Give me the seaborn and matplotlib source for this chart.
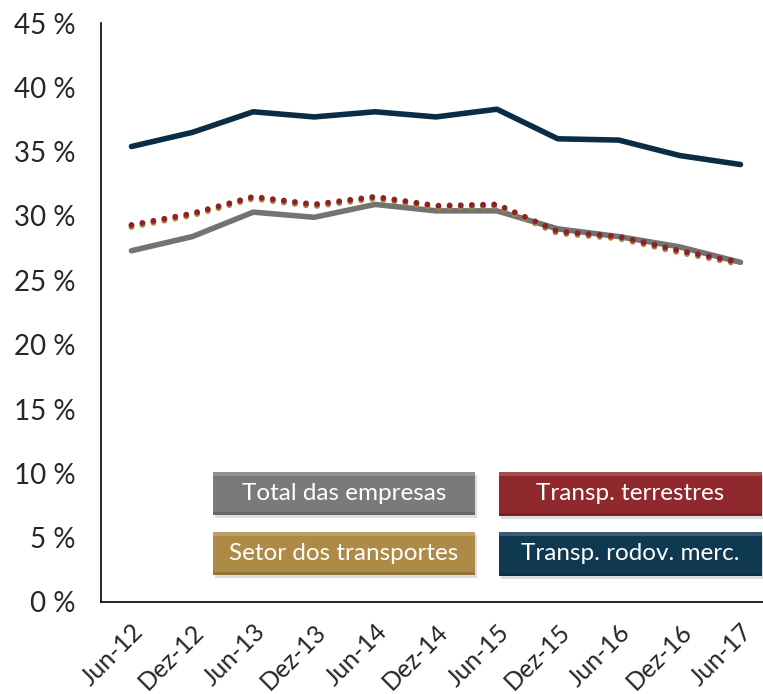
import matplotlib
matplotlib.use("Agg")
import matplotlib.pyplot as plt
import pandas as pd
import seaborn as sns
from matplotlib.patches import Rectangle
from matplotlib.ticker import FuncFormatter

periods = ["Jun-12", "Dez-12", "Jun-13", "Dez-13", "Jun-14", "Dez-14",
           "Jun-15", "Dez-15", "Jun-16", "Dez-16", "Jun-17"]

total_empresas = [27.3, 28.4, 30.3, 29.9, 30.9, 30.4, 30.4, 29.0, 28.4, 27.6, 26.4]
setor_transportes = [29.2, 30.1, 31.4, 30.8, 31.4, 30.7, 30.8, 28.7, 28.3, 27.2, 26.3]
transp_terrestres = [29.3, 30.2, 31.5, 30.9, 31.5, 30.8, 30.9, 28.8, 28.4, 27.3, 26.4]
transp_rodov_merc = [35.4, 36.5, 38.1, 37.7, 38.1, 37.7, 38.3, 36.0, 35.9, 34.7, 34.0]

COLORS = {
    "Total das empresas": "#737373",
    "Setor dos transportes": "#a88642",
    "Transp. terrestres": "#8b2326",
    "Transp. rodov. merc.": "#0b2c45",
}
BOX_COLORS = {
    "Total das empresas": "#7a7a7a",
    "Setor dos transportes": "#ad8b47",
    "Transp. terrestres": "#8f292d",
    "Transp. rodov. merc.": "#0f3851",
}

sns.set_style("white")
plt.rcParams["font.family"] = ["Lato", "DejaVu Sans"]

df = pd.DataFrame({
    "x": range(len(periods)),
    "Total das empresas": total_empresas,
    "Setor dos transportes": setor_transportes,
    "Transp. terrestres": transp_terrestres,
    "Transp. rodov. merc.": transp_rodov_merc,
})

fig = plt.figure(figsize=(7.63, 6.94), dpi=100)
ax = fig.add_axes([101 / 763, 92 / 694, 670 / 763, 579 / 694])

dot_style = dict(linestyle=(0, (0.01, 1.9)), linewidth=4.2, dash_capstyle="round")
sns.lineplot(data=df, x="x", y="Total das empresas", ax=ax,
             color=COLORS["Total das empresas"], linewidth=4.0)
sns.lineplot(data=df, x="x", y="Transp. rodov. merc.", ax=ax,
             color=COLORS["Transp. rodov. merc."], linewidth=4.0)
sns.lineplot(x=df["x"], y=df["Setor dos transportes"] - 0.05, ax=ax,
             color=COLORS["Setor dos transportes"], **dot_style)
sns.lineplot(data=df, x="x", y="Transp. terrestres", ax=ax,
             color=COLORS["Transp. terrestres"], **dot_style)

ax.set_xlim(-0.5, 10.5)
ax.set_ylim(0, 45)
ax.set_yticks(range(0, 46, 5))
ax.yaxis.set_major_formatter(FuncFormatter(lambda v, _: f"{int(v)} %"))
ax.set_xticks(range(len(periods)))
ax.set_xticklabels(periods, rotation=45, ha="right", rotation_mode="anchor")
ax.set_xticks([i - 0.5 for i in range(len(periods))], minor=True)
ax.tick_params(axis="x", which="major", length=0, pad=13, labelsize=18)
ax.tick_params(axis="x", which="minor", length=6, width=1.2, direction="out", color="black")
ax.tick_params(axis="y", length=6, width=1.2, direction="out", color="black", labelsize=20, pad=12)
ax.set_xlabel("")
ax.set_ylabel("")
for side in ["top", "right"]:
    ax.spines[side].set_visible(False)
for side in ["left", "bottom"]:
    ax.spines[side].set_color("black")
    ax.spines[side].set_linewidth(1.2)
ax.grid(False)

# legend boxes (pixel positions converted to figure fractions)
boxes = [
    ("Total das empresas", 213, 472, 262, 43),
    ("Transp. terrestres", 499, 472, 263, 44),
    ("Setor dos transportes", 213, 532, 262, 43),
    ("Transp. rodov. merc.", 499, 532, 263, 44),
]
W, H = 763, 694
for label, x0, y0, w, h in boxes:
    fx, fy = x0 / W, (H - y0 - h) / H
    fw, fh = w / W, h / H
    fig.patches.append(Rectangle((fx + 2 / W, fy - 3 / H), fw, fh, transform=fig.transFigure,
                                 facecolor="#c8c8c8", edgecolor="none", alpha=0.6, zorder=1))
    fig.patches.append(Rectangle((fx, fy), fw, fh, transform=fig.transFigure,
                                 facecolor=BOX_COLORS[label], edgecolor="none", zorder=2))
    fig.patches.append(Rectangle((fx, fy + fh - 4 / H), fw, 4 / H, transform=fig.transFigure,
                                 facecolor="white", edgecolor="none", alpha=0.18, zorder=3))
    fig.patches.append(Rectangle((fx, fy), fw, 3 / H, transform=fig.transFigure,
                                 facecolor="black", edgecolor="none", alpha=0.15, zorder=3))
    fig.text(fx + fw / 2, fy + fh / 2, label, color="white", fontsize=17.5,
             ha="center", va="center", zorder=4)

fig.savefig("out.png", dpi=100)
